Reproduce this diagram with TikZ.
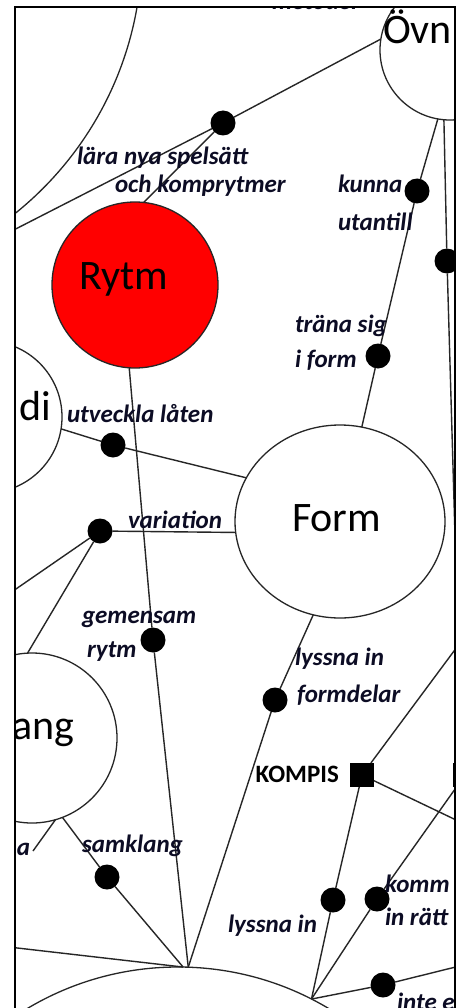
\documentclass[tikz,border=0pt]{standalone}
\usepackage{fontspec}
\setmainfont{Carlito}
\usetikzlibrary{shapes.geometric}
\definecolor{labcol}{RGB}{12,12,36}
\definecolor{rytmred}{RGB}{255,0,0}
\begin{document}
\begin{tikzpicture}[x=1pt,y=-1pt,
  conn/.style={line width=1.4pt, draw=black!85},
  topic/.style={circle, draw=black!85, line width=1.3pt, inner sep=0pt, outer sep=0pt},
  dotn/.style={circle, fill=black, inner sep=0pt, outer sep=0pt, minimum size=25pt},
  sqn/.style={rectangle, fill=black, inner sep=0pt, outer sep=0pt, minimum size=24pt},
  lab/.style={font=\fontsize{25}{28}\selectfont\bfseries\itshape, text=labcol, inner sep=0pt, outer sep=0pt, anchor=base west},
  ttl/.style={font=\fontsize{42}{46}\selectfont, text=black, inner sep=0pt, outer sep=0pt, anchor=base west},
]
\useasboundingbox (0,0) rectangle (457,1008);
\fill[white] (0,0) rectangle (457,1008);
\begin{scope}
\clip (15,7) rectangle (455,1008);
% topic circles
\node[topic, minimum size=678pt] (bigtl) at (-197,-51) {};
\node[topic, minimum size=140pt] (ovn) at (450,50) {};
\node[topic, fill=rytmred, minimum size=166pt] (rytm) at (135,285) {};
\node[topic, minimum size=152pt] (melodi) at (-14,417) {};
\node[ellipse, draw=black!85, line width=1.3pt, inner sep=0pt, outer sep=0pt, minimum width=210pt, minimum height=193pt] (form) at (340,521.5) {};
\node[topic, minimum size=170pt] (klang) at (32,738) {};
\node[topic, minimum size=588pt] (bottom) at (178,1261) {};
% titles
\node[ttl] (tovn) at (383,44) {Övn};
\node[ttl] (trytm) at (79,289) {Rytm};
\node[ttl] (tform) at (292,531) {Form};
\node[ttl] (tdi) at (19,420) {di};
\node[ttl, anchor=base east] (tang) at (74,739) {ang};
% dots and squares
\node[dotn] (d1) at (223,123) {};
\node[dotn] (d2) at (417,191) {};
\node[dotn] (d3) at (447,261) {};
\node[dotn] (d4) at (378,356) {};
\node[dotn] (d5) at (113,445) {};
\node[dotn] (d6) at (100,531) {};
\node[dotn] (d7) at (153,640) {};
\node[dotn] (d8) at (275,700) {};
\node[dotn] (d9) at (107,877) {};
\node[dotn] (d10) at (333,900) {};
\node[dotn] (d11) at (377,899) {};
\node[dotn] (d12) at (383,985) {};
\node[sqn] (kompis) at (362,775) {};
\node[sqn] (sq2) at (465,775) {};
% free ends
\coordinate (c1) at (0,237);
\coordinate (c3) at (470,1050);
\coordinate (c6) at (0,600);
\coordinate (ca) at (33,851);
\coordinate (cbl) at (0,946);
\coordinate (ck1) at (500,589);
\coordinate (ck2) at (500,841);
\coordinate (c12) at (500,956);
% connectors
\draw[conn] (c1) -- (d1) -- (ovn.171.6);
\draw[conn] (d1) -- (rytm.84);
\draw[conn] (ovn.-100.5) -- (d2) -- (d4) -- (form.77);
\draw[conn] (ovn.-95.6) -- (d3) -- (c3);
\draw[conn] (melodi.-9.7) -- (d5) -- (form.155.7);
\draw[conn] (c6) -- (d6) -- (form.186);
\draw[conn] (klang.93.4) -- (d6);
\draw[conn] (rytm.-94.8) -- (d7) -- (bottom.88.6);
\draw[conn] (form.-106.3) -- (d8) -- (bottom.88.6);
\draw[conn] (klang.-69.4) -- (d9) -- (bottom.89);
\draw[conn] (klang.-74.7) -- (ca);
\draw[conn] (cbl) -- (bottom.89.6);
\draw[conn] (ck1) -- (kompis) -- (ck2);
\draw[conn] (kompis) -- (d10) -- (bottom.63.3);
\draw[conn] (sq2) -- (d11) -- (bottom.63.3);
\draw[conn] (bottom.63.3) -- (d12) -- (c12);
% labels
\node[lab] (lmet) at (272,10) {metoder};
\node[lab] (l1a) at (77,165) {lära nya spelsätt};
\node[lab] (l1b) at (115,193) {och komprytmer};
\node[lab] (l2a) at (338,193) {kunna};
\node[lab] (l2b) at (338,230) {utantill};
\node[lab] (l4a) at (295,332) {träna sig};
\node[lab] (l4b) at (295,367) {i form};
\node[lab] (l5) at (67,422) {utveckla låten};
\node[lab] (l6) at (128,528) {variation};
\node[lab] (l7a) at (82,623) {gemensam};
\node[lab] (l7b) at (87,657) {rytm};
\node[lab] (l8a) at (295,665) {lyssna in};
\node[lab] (l8b) at (297,702) {formdelar};
\node[lab] (l9) at (82,852) {samklang};
\node[lab, anchor=base east] (la) at (30,855) {a};
\node[lab] (l10) at (228,932) {lyssna in};
\node[lab] (l11a) at (385,892) {komm};
\node[lab] (l11b) at (385,925) {in rätt};
\node[lab] (l12) at (397,1010) {inte e};
\node[font=\fontsize{25}{28}\selectfont\bfseries, text=black, inner sep=0pt, anchor=base east] (lkompis) at (339,782) {KOMPIS};
\end{scope}
\draw[line width=2.5pt] (15,1012) -- (15,7) -- (455,7) -- (455,1012);
\end{tikzpicture}
\end{document}
